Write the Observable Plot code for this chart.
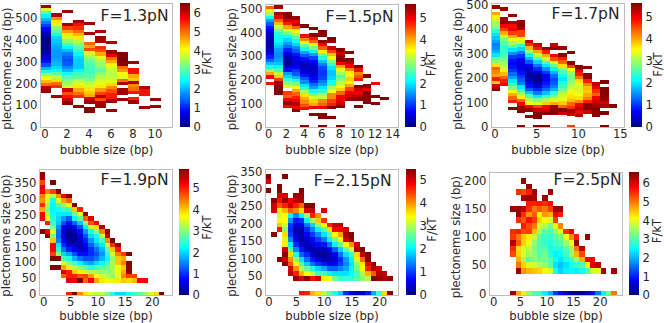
<!DOCTYPE html>
<html>
<head>
<meta charset="utf-8">
<script src="https://cdn.jsdelivr.net/npm/d3@7"></script>
<script src="https://cdn.jsdelivr.net/npm/@observablehq/plot@0.6"></script>
<style>
html,body{margin:0;padding:0;background:#fff}
#fig{position:relative;width:664px;height:323px;overflow:hidden}
#fig svg{position:absolute;overflow:visible;background:transparent}
.heat{filter:blur(.45px)}
</style>
</head>
<body>
<div id="fig"></div>
<script>
// Each column is one bubble size: [top plectoneme size, F/kT going down by one bin, ...]; null = empty bin
const n = null;
const f13Cols = [
 [555,6.3,3.8,3.0,2.4,2.0,1.6,1.2,0.8,0.4,0.2,0.1,0.05,0.1,0.1,0.2,0.4,0.6,0.9,1.3,2.0,2.6,3.3,4.0,4.5,5.0,6.2,6.4],
 [515,6.2,4.8,4.2,3.8,3.3,3.0,2.6,2.2,2.1,2.0,1.9,1.8,1.8,1.8,1.9,2.0,2.2,2.4,3.0,3.6,4.3,5.0,5.4,n,n,6.3],
 [530,6.3,n,n,n,6.3,5.3,4.7,4.2,3.8,3.3,2.9,2.4,2.0,1.6,1.4,1.3,1.4,1.7,2.0,2.5,3.0,3.3,3.4,3.8,6.0,5.2,5.6,6.0,6.4],
 [485,6.3,5.6,5.4,5.0,4.5,4.2,3.6,3.3,3.0,2.8,2.4,2.2,2.1,2.1,2.1,2.4,2.8,3.0,3.6,3.8,4.2,4.6,5.0,5.4,n,n,6.4],
 [475,6.3,n,n,6.3,n,n,5.0,4.6,5.2,3.8,3.5,3.2,3.0,2.9,2.8,2.9,3.0,3.2,3.6,3.8,4.2,4.4,4.6,6.0,6.3,n,6.4,6.4],
 [440,6.2,n,6.3,6.2,n,5.4,5.2,4.6,3.9,3.6,3.4,3.2,3.0,3.3,3.6,3.8,3.9,4.2,4.7,5.3,6.1,5.2,6.2,6.3],
 [390,6.2,n,n,6.3,5.9,5.0,4.6,4.1,3.8,3.7,3.6,3.7,3.9,4.3,4.8,5.2,5.5,5.5,6.3,n,n,6.3],
 [335,6.5,6.5,6.5,6.4,5.0,4.7,4.0,3.9,5.0,6.2,n,6.3,6.3,n,6.3],
 [295,6.3,n,5.6,5.6,4.6,4.4,6.2,4.8,5.0,5.6,n,5.5,6.3],
 [180,6.2,5.6,5.6,n,n,n,6.3],
 [125,6.3,n,6.3]
];
const f15Cols = [
 [506,4.4,3.6,3.0,2.2,1.6,1.2,0.8,0.6,0.4,0.3,0.2,0.15,0.2,0.3,0.6,0.9,1.3,1.8,2.3,3.0,4.0,5.0,n,4.9],
 [508,5.5,n,5.4,5.0,4.4,3.9,3.2,2.8,2.4,2.2,2.2,2.0,1.8,1.6,1.5,1.5,1.6,1.8,2.1,2.5,3.2,3.8,4.6,5.5,5.6,5.6,5.6],
 [480,5.6,5.6,5.2,4.8,4.0,3.2,2.8,2.2,1.9,1.6,1.3,0.9,0.6,0.3,0.2,0.1,0.4,0.8,1.6,1.9,2.4,2.9,3.4,n,4.6,4.4,5.0,5.5,5.0],
 [462,5.5,5.0,5.3,4.4,3.6,3.0,2.6,2.2,1.9,1.5,1.2,0.8,0.6,0.5,0.5,0.7,1.0,1.2,1.7,2.2,2.8,3.5,4.0,4.4,4.8,5.0,5.4,5.0,5.6],
 [428,5.6,n,n,4.9,4.2,3.4,2.7,2.2,1.6,1.2,0.8,0.5,0.3,0.4,0.5,0.8,1.2,1.5,2.0,2.4,3.0,3.7,4.0,4.2,4.5,4.9],
 [418,5.6,n,5.6,4.8,4.4,3.6,2.8,2.2,1.6,1.1,0.7,0.5,0.4,0.4,0.5,0.7,0.9,1.3,1.6,2.2,2.8,3.3,3.8,4.0,5.0,n,5.6],
 [404,5.6,5.6,n,5.6,5.0,4.4,3.6,2.8,2.3,1.8,1.4,1.1,1.0,1.0,1.1,1.4,1.6,2.0,2.4,3.0,3.2,4.2,4.4,5.0,n,5.6,5.6],
 [376,5.6,5.5,n,5.2,4.6,3.9,3.4,2.8,2.4,2.0,1.8,1.8,1.9,2.2,2.4,3.0,3.5,4.2,4.2,4.6,4.8,5.6,n,n,5.6],
 [326,5.6,5.2,5.5,5.6,5.0,4.0,3.4,3.0,2.6,2.8,3.2,3.4,3.8,4.4,5.0,5.0,5.2,5.6],
 [315,5.6,n,5.6,5.4,5.0,4.2,3.6,3.4,3.8,3.6,4.0,4.6,5.0,5.2,5.5],
 [256,5.6,4.9,4.2,4.5,4.8,n,5.6,5.2,5.0,5.4,5.6,n,5.6],
 [216,5.6,n,n,5.6,5.0,5.6,5.6,5.6,5.6],
 [185,5.0,n,n,n,5.6,n,5.6],
 [122,5.6]
];
const f15Zero = [n,n,n,n,5.6,n,5.6,n,5.6];
const f17Cols = [
 [490,5.5,n,4.0,3.6,3.2,3.0,2.8,2.4,2.0,1.8,1.6,1.4,1.5,1.7,2.0,2.6,3.0,3.7,4.4,4.2,4.0,4.8,3.8,5.2,5.5],
 [482,5.5,n,n,5.4,5.6,5.0,4.6,4.0,3.2,2.8,2.6,2.4,2.4,2.4,2.6,2.8,3.0,3.2,3.6,3.9,4.4,4.8,5.0],
 [454,5.5,n,5.4,4.9,5.0,4.6,4.0,3.4,3.0,2.6,2.0,1.5,1.0,0.8,0.7,0.8,1.0,1.3,1.6,2.0,2.4,2.8,3.5,4.0,4.4,4.8,n,5.6],
 [430,5.5,5.6,5.4,4.6,4.6,3.5,3.3,2.4,1.9,1.4,1.0,0.7,0.5,0.5,0.6,0.8,1.0,1.2,1.4,2.0,2.4,3.0,3.6,4.4,5.0,5.5,5.6],
 [350,5.3,4.7,3.9,3.0,2.2,1.7,1.2,0.7,0.4,0.3,0.2,0.3,0.5,0.8,1.2,1.8,2.5,3.0,3.6,5.0,5.5,n,5.5],
 [335,5.2,4.8,4.0,3.2,2.6,1.9,1.4,0.9,0.5,0.1,0.1,0.2,0.5,0.9,1.4,2.0,2.8,3.3,4.6,5.2,5.6,5.6],
 [320,5.5,4.8,4.0,3.2,2.6,2.0,1.5,1.0,0.6,0.6,0.8,1.0,1.3,1.8,2.4,3.0,3.8,5.0,5.3,5.6],
 [334,5.3,5.6,n,5.0,4.5,3.4,2.7,2.1,1.7,1.3,1.1,1.2,1.4,1.7,2.4,2.8,3.4,4.0,5.5,5.6,5.6],
 [322,5.5,n,5.6,4.8,4.4,3.7,3.0,2.5,2.2,2.0,2.2,2.4,2.7,3.0,3.3,3.4,3.8,4.4,5.6,5.2],
 [304,5.6,n,n,5.6,4.6,3.5,3.0,2.8,2.8,3.0,3.2,3.4,3.6,3.7,3.9,4.4,4.7,5.4,5.2],
 [244,5.6,5.2,4.8,4.3,3.7,3.4,3.3,3.3,3.5,3.7,4.2,5.0,5.3,5.0,5.3],
 [243,5.6,n,5.6,5.6,4.8,4.2,3.9,3.8,4.0,4.2,4.8,5.6,5.6,5.2],
 [175,5.3,5.0,4.7,4.4,5.0,5.2,5.4,5.6,5.6,5.6],
 [183,5.6,n,5.6,5.6,5.6,5.5,5.2,5.4,n,5.6],
 [85,5.6]
];
const f17Zero = [n,n,n,5.6,n,5.6,5.6,n,n,4.6,n,n,n,5.6];
const f19Cols = [
 [378,5.8,5.7,4.8,5.4,5.2,4.4,4.3,4.9,4.2,5.2,5.2,n,n,5.9],
 [322,4.4,3.6,3.4,3.2,3.0,3.3,3.6,5.0,n,5.2,5.8],
 [350,5.9,n,4.8,3.2,2.4,2.2,2.2,2.3,2.5,2.6,3.0,3.6,3.0,4.0,5.2,5.2,4.8,5.9,n,5.9],
 [322,5.9,4.3,3.4,2.7,2.3,2.1,2.0,1.9,1.6,1.4,1.3,1.5,2.1,2.4,3.0,5.9,n,5.9],
 [308,5.2,4.2,3.0,2.5,2.1,1.6,1.2,0.7,0.5,0.5,0.7,1.0,1.4,2.0,2.6,3.5,4.2,5.4,4.6],
 [308,5.9,4.6,3.6,2.6,2.1,1.3,0.8,0.4,0.1,0.1,0.2,0.5,0.9,1.7,2.4,3.0,3.8,5.0,5.0,5.3],
 [280,5.9,4.0,2.9,2.2,1.3,0.6,0.3,0.1,0.1,0.4,0.7,1.2,1.8,2.6,3.3,4.0,5.0,5.2],
 [266,5.0,3.6,2.8,1.9,1.2,0.8,0.6,0.4,0.3,0.4,0.8,1.4,2.2,3.0,3.8,4.7,5.9],
 [252,5.8,4.6,3.0,2.2,1.6,1.2,0.9,0.7,0.5,0.8,1.2,1.8,2.8,3.4,4.8,4.6],
 [238,5.4,4.7,3.3,2.4,2.0,1.6,1.3,1.0,1.0,1.2,1.7,2.4,3.2,4.3,5.2],
 [224,5.2,3.9,3.0,2.4,2.1,1.8,1.4,1.2,1.4,2.0,2.6,3.2,3.6,4.2],
 [210,5.6,4.4,3.4,2.6,2.1,1.8,1.6,1.8,2.2,2.8,3.0,3.4,3.8],
 [196,5.8,5.5,4.3,3.4,2.8,2.4,2.2,2.6,2.9,3.0,3.2,3.6],
 [168,5.9,4.9,4.0,3.4,3.1,3.2,3.2,3.2,3.0,3.5],
 [154,5.7,5.0,4.4,4.0,4.0,3.6,3.6,3.5,3.8],
 [126,4.8,4.2,4.4,4.0,4.2,4.4,4.0],
 [126,5.9,n,5.8,5.8,5.8,4.8,3.9],
 [56,4.8,4.1],
 [42,5.2],
 [42,5.2]
];
const f19Zero = [n,n,n,n,n,5.0,5.9,4.4,3.8,3.5,3.2,3.3,3.0,2.4,2.0,2.0,2.3,2.5,2.8,3.0,3.5,3.9,5.9];
const f215Cols = [
 [336,5.4,5.0,n,5.4],
 [266,5.4,5.0,5.0,n,n,n,n,5.4],
 [308,5.4,5.4,5.0,4.7,4.3,3.5,3.2,3.4,3.7,4.7,n,n,n,n,n,5.4],
 [336,5.4,n,n,n,5.0,5.3,4.6,3.8,3.4,3.4,3.2,2.8,3.6,3.2,3.5,5.0,5.4,5.0,5.4],
 [266,4.8,5.0,4.3,2.0,1.5,1.0,0.9,1.0,1.4,2.0,2.6,3.6,4.0,4.3,5.0,5.1],
 [280,5.3,5.1,4.6,4.0,1.4,0.8,0.5,0.3,0.4,0.6,0.9,1.4,2.2,2.8,3.3,4.0,4.6,5.3],
 [294,5.4,5.3,5.2,4.2,3.6,2.0,0.9,0.5,0.3,0.2,0.2,0.4,0.8,1.2,1.9,2.5,3.0,3.8,5.0],
 [252,5.4,5.0,2.9,2.0,1.3,0.9,0.6,0.4,0.3,0.4,0.9,1.3,1.8,2.6,3.4,5.4],
 [252,5.4,5.1,4.6,2.9,1.8,1.4,1.0,0.7,0.4,0.2,0.4,0.8,1.3,2.2,3.0,4.7],
 [224,4.0,3.7,2.8,2.0,1.4,1.0,0.7,0.3,0.1,0.5,1.0,1.8,2.4,5.0],
 [238,5.0,n,4.5,3.4,2.6,1.9,1.3,0.8,0.3,0.1,0.3,0.8,1.6,2.4,3.5],
 [196,4.6,3.6,2.5,2.0,1.3,0.6,0.3,0.3,0.6,1.2,2.0,3.3],
 [196,5.1,4.8,3.4,2.7,2.0,1.2,0.6,0.4,0.7,1.2,1.9,2.6],
 [196,5.1,4.8,3.9,3.4,2.6,1.8,1.3,0.9,1.0,1.4,1.9,2.3],
 [182,5.0,5.2,5.0,3.4,2.6,1.9,1.5,1.4,1.6,1.9,2.3],
 [168,5.4,5.4,4.0,3.2,2.4,2.0,1.9,2.0,2.1,2.3],
 [140,5.0,5.2,3.6,3.2,2.8,2.7,2.4,2.5],
 [126,5.4,5.1,4.2,3.5,3.4,3.0,2.8],
 [112,5.4,5.4,4.9,4.6,3.8,3.0],
 [84,5.4,5.1,4.3,5.4],
 [70,5.0,5.2,5.3],
 [56,5.1,5.2],
 [42,5.3]
];
const f215Zero = [n,n,n,n,n,n,4.7,4.6,3.8,3.6,3.0,2.6,2.2,1.8,0.9,0.6,0.3,0.4,0.8,1.6,2.4,3.6,5.4];
const f25Cols = [
 [],[],[],[],
 [150,6.4,n,n,n,5.5,5.4,6.3,5.5,5.3],
 [180,5.5,n,n,6.4,6.4,5.5,n,5.6,5.0,5.2,4.3,4.4,4.6,5.0,6.4],
 [200,6.4,n,5.3,6.4,n,6.2,5.5,5.2,5.6,5.3,4.5,4.4,3.8,3.9,3.6,4.4,4.8],
 [190,6.4,5.6,6.4,5.6,5.5,4.8,5.7,5.3,5.4,4.2,4.0,3.7,3.5,3.0,3.9,4.6],
 [180,6.4,6.3,5.6,5.0,5.2,5.4,5.0,4.5,3.7,3.4,3.3,3.4,3.3,3.8,4.5],
 [160,5.6,5.2,4.2,4.4,3.8,3.5,3.1,3.0,3.0,3.0,3.2,3.6,4.4],
 [170,6.4,5.5,5.0,4.8,4.1,3.6,3.0,2.9,2.8,3.0,3.2,3.2,3.4,4.0],
 [180,6.4,n,5.7,5.4,4.6,3.9,3.2,3.0,2.8,2.7,2.6,2.7,3.0,3.0,3.9],
 [150,6.4,5.9,5.4,4.0,3.4,3.1,2.9,2.7,2.4,2.5,2.3,2.6],
 [150,6.4,5.6,n,4.9,3.9,3.3,3.0,2.7,2.5,2.3,2.1,2.2],
 [110,5.5,4.0,3.5,3.0,2.9,2.6,2.3,2.4],
 [110,5.9,4.9,4.1,3.5,3.4,2.9,2.6,2.5],
 [100,5.6,6.4,5.0,4.6,3.5,2.8,2.4],
 [80,6.2,5.3,4.6,3.0,2.6],
 [100,6.4,n,n,n,5.8,4.2,3.0],
 [60,5.8,6.0,3.8],
 [50,6.2,4.0],
 [40,6.4],
 [],
 [40,6.4]
];
const f25Zero = [n,n,n,n,6.4,4.7,4.2,3.4,3.0,2.9,2.4,2.0,1.2,0.9,0.5,0.1,0.1,0.2,0.5,0.9,1.6,2.4,3.3,5.0];

const jet = ["#00007f","#0000ff","#007fff","#00ffff","#7fff7f","#ffff00","#ff7f00","#ff0000","#7f0000"];
const textColor = "#262626", frameColor = "#bdbdbd", fontFamily = "'DejaVu Sans'", axisSize = 11.6;

const panels = [
 {title:"F=1.3pN",cols:f13Cols,zero:null,step:15,xDom:[-0.4,11.6],off:0.1,yDom:[0,570],xt:[0,2,4,6,8,10],yt:[0,100,200,300,400,500],max:6.5,cbt:[0,1,2,3,4,5,6],box:[40,3,132,124],cb:[180,10],dy:13,dx:-4,xlab:23,cbLab:[17,-3]},
 {title:"F=1.5pN",cols:f15Cols,zero:f15Zero,step:14,xDom:[-0.35,14.65],off:0.15,yDom:[0,521],xt:[0,2,4,6,8,10,12,14],yt:[0,100,200,300,400,500],max:5.65,cbt:[0,1,2,3,4,5],box:[265,4,133,123],cb:[405,11],dy:13,dx:-5,xlab:23,cbLab:[15,-2]},
 {title:"F=1.7pN",cols:f17Cols,zero:f17Zero,step:14,xDom:[-0.4,15.5],off:0.15,yDom:[0,506],xt:[0,5,10,15],yt:[0,100,200,300,400,500],max:5.65,cbt:[0,1,2,3,4,5],box:[491,3,133,124],cb:[631,11],dy:11,dx:-5,xlab:23,cbLab:[15.5,-1]},
 {title:"F=1.9pN",cols:f19Cols,zero:f19Zero,step:14,xDom:[-0.75,23.7],off:-0.2,yDom:[-3,393],xt:[0,5,10,15,20],yt:[0,50,100,150,200,250,300,350],max:5.9,cbt:[0,1,2,3,4,5],box:[39,169,133,126],cb:[179,10],dy:11,dx:-4,xlab:21,cbLab:[18,-5]},
 {title:"F=2.15pN",cols:f215Cols,zero:f215Zero,step:14,xDom:[-0.6,23.4],off:0,yDom:[-5,357],xt:[0,5,10,15,20],yt:[0,50,100,150,200,250,300,350],max:5.45,cbt:[0,1,2,3,4,5],box:[265,169,133,126],cb:[406,10],dy:12,dx:-7,xlab:21,cbLab:[16,-3]},
 {title:"F=2.5pN",cols:f25Cols,zero:f25Zero,step:10,xDom:[-0.8,24.2],off:-0.3,yDom:[-3,216],xt:[0,5,10,15,20],yt:[0,50,100,150,200],max:6.6,cbt:[0,1,2,3,4,5,6],box:[489,172,133,123],cb:[629,10],dy:8,dx:-1,xlab:21,cbLab:[18,-3]}
];

const fig = document.getElementById("fig");
const interp = d3.piecewise(d3.interpolateRgb, jet);

function cellsOf(p){
  const out = [];
  p.cols.forEach((col,bubble)=>{
    col.slice(1).forEach((v,i)=>{ if(v!==null) out.push({bubble,size:col[0]-i*p.step,v}); });
  });
  if(p.zero) p.zero.forEach((v,bubble)=>{ if(v!==null) out.push({bubble,size:0,v}); });
  return out;
}

for(const p of panels){
  const [fx,fy,fw,fh] = p.box;
  const ml=40, mt=3, mb=26;
  const chart = Plot.plot({
    width:fw+ml, height:fh+mt+mb,
    marginLeft:ml, marginRight:0, marginTop:mt, marginBottom:mb,
    style:{fontFamily,color:textColor,background:"transparent"},
    x:{domain:p.xDom},
    y:{domain:p.yDom},
    color:{type:"linear",domain:[0,p.max],interpolate:interp,clamp:true},
    marks:[
      Plot.rect(cellsOf(p),{
        x1:d=>d.bubble-0.5+p.off, x2:d=>d.bubble+0.5+p.off,
        y1:d=>d.size-p.step/2, y2:d=>d.size+p.step/2,
        fill:"v", clip:true, shapeRendering:"crispEdges", className:"heat"
      }),
      Plot.frame({stroke:frameColor}),
      Plot.axisX({ticks:p.xt,tickSize:0,tickPadding:2,fontSize:axisSize,label:null}),
      Plot.axisY({ticks:p.yt,tickSize:0,tickPadding:3,fontSize:axisSize,label:null}),
      Plot.text(["bubble size (bp)"],{frameAnchor:"bottom",lineAnchor:"middle",dy:p.xlab,fontSize:axisSize,fill:textColor}),
      Plot.text(["plectoneme size (bp)"],{frameAnchor:"left",rotate:-90,textAnchor:"middle",lineAnchor:"middle",dx:-33,dy:3,fontSize:axisSize,fill:textColor}),
      Plot.text([p.title],{frameAnchor:"top-right",lineAnchor:"middle",dx:p.dx,dy:p.dy,fontSize:15.5,fill:textColor})
    ]
  });
  chart.style.left=(fx-ml)+"px"; chart.style.top=(fy-mt)+"px";
  fig.appendChild(chart);

  const [cx,cw] = p.cb, mr=26;
  const steps = d3.range(240);
  const bar = Plot.plot({
    width:cw+mr, height:fh+mt+mb,
    marginLeft:0, marginRight:mr, marginTop:mt, marginBottom:mb,
    style:{fontFamily,color:textColor,background:"transparent"},
    x:{axis:null,domain:[0,1]},
    y:{domain:[0,p.max]},
    color:{type:"linear",domain:[0,p.max],interpolate:interp},
    marks:[
      Plot.rect(steps,{x1:0,x2:1,y1:i=>i/240*p.max,y2:i=>(i+1)/240*p.max,fill:i=>(i+0.5)/240*p.max,shapeRendering:"crispEdges"}),
      Plot.axisY({anchor:"right",ticks:p.cbt,tickFormat:"d",tickSize:0,tickPadding:3,fontSize:axisSize,label:null}),
      Plot.text(["F/kT"],{frameAnchor:"right",rotate:-90,textAnchor:"middle",lineAnchor:"middle",dx:p.cbLab[0],dy:p.cbLab[1],fontSize:axisSize,fill:textColor})
    ]
  });
  bar.style.left=cx+"px"; bar.style.top=(fy-mt)+"px";
  fig.appendChild(bar);
}
</script>
</body>
</html>
